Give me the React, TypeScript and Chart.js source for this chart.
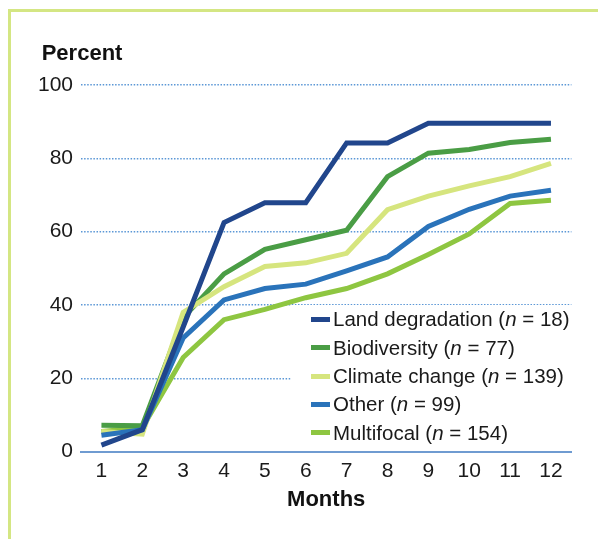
import React, { useEffect, useRef } from "react";
import { Chart, registerables } from "chart.js";

Chart.register(...registerables);

const months = ["1", "2", "3", "4", "5", "6", "7", "8", "9", "10", "11", "12"];
const yMin = 0;
const yMax = 100;
const yStep = 20;

const landDegradation = [1.8, 6, 34, 62.5, 67.9, 67.9, 84.2, 84.2, 89.6, 89.6, 89.6, 89.6];
const biodiversity = [7.2, 7.1, 36.5, 48.5, 55.2, 57.8, 60.4, 75, 81.4, 82.4, 84.3, 85.2];
const climateChange = [5.5, 4.8, 38, 45, 50.5, 51.5, 54.1, 66, 69.7, 72.5, 75, 78.6];
const other = [4.5, 6, 31, 41.4, 44.5, 45.7, 49.3, 53.1, 61.4, 66.1, 69.7, 71.3];
const multifocal = [5.5, 6.5, 25.7, 36, 38.8, 42, 44.5, 48.5, 53.8, 59.4, 67.7, 68.6];

const seriesNames = ["Land degradation", "Biodiversity", "Climate change", "Other", "Multifocal"];
const seriesN = [18, 77, 139, 99, 154];
const seriesValues = [landDegradation, biodiversity, climateChange, other, multifocal];
const seriesColors = ["#21468c", "#4a9d45", "#d6e57e", "#2a73ba", "#8ec641"];
const drawOrder = [0, 3, 2, 1, 4];

const FONT = "'Liberation Sans', Arial, sans-serif";

export default function App() {
  const canvasRef = useRef<HTMLCanvasElement | null>(null);

  useEffect(() => {
    const canvas = canvasRef.current;
    if (!canvas) return;
    const chart = new Chart(canvas, {
      type: "line",
      data: {
        labels: months,
        datasets: seriesNames.map((name, i) => ({
          label: `${name} (n = ${seriesN[i]})`,
          data: seriesValues[i],
          borderColor: seriesColors[i],
          backgroundColor: seriesColors[i],
          borderWidth: 5,
          pointRadius: 0,
          pointHoverRadius: 0,
          tension: 0,
          fill: false,
          borderJoinStyle: "miter" as const,
          borderCapStyle: "butt" as const,
          order: drawOrder[i],
        })),
      },
      options: {
        animation: false,
        responsive: false,
        maintainAspectRatio: false,
        events: [],
        layout: { padding: { top: 85, left: 0, right: 26.6, bottom: 0 } },
        plugins: {
          legend: { display: false },
          tooltip: { enabled: false },
          title: { display: false },
        },
        scales: {
          x: {
            type: "category",
            offset: true,
            grid: { display: false, drawTicks: false },
            border: { display: true, color: "#6f9bd1", width: 2 },
            ticks: {
              color: "#1a1a1a",
              font: { family: FONT, size: 21 },
              padding: 7,
              maxRotation: 0,
              autoSkip: false,
            },
            title: {
              display: true,
              text: "Months",
              color: "#111",
              font: { family: FONT, size: 22, weight: "bold" },
              padding: { top: 0, bottom: 25.8 },
            },
            afterFit: (scale: any) => {
              scale.height = 539 - 451.7;
              scale.paddingLeft = 0;
              scale.paddingRight = 0;
            },
          },
          y: {
            min: yMin,
            max: yMax,
            ticks: {
              stepSize: yStep,
              color: "#1a1a1a",
              font: { family: FONT, size: 21 },
              padding: 8,
            },
            border: { display: false, dash: [1.5, 1.6] },
            grid: {
              drawTicks: false,
              lineWidth: 1.6,
              color: (ctx: any) => (ctx.tick && ctx.tick.value === 0 ? "rgba(0,0,0,0)" : "#5b97d6"),
            },
            afterFit: (scale: any) => {
              scale.width = 81;
              scale.paddingTop = 0;
              scale.paddingBottom = 0;
            },
          },
        },
      } as any,
    });
    return () => chart.destroy();
  }, []);

  const legendTop = 305;
  const rowH = 28.4;
  const firstCenter = 319.3;

  return (
    <div style={{ position: "absolute", left: 0, top: 0, width: 598, height: 539, background: "#fff", overflow: "hidden" }}>
      <div
        style={{
          position: "absolute",
          left: 8,
          top: 9,
          width: 600,
          height: 540,
          borderLeft: "3px solid #d4e683",
          borderTop: "3px solid #d4e683",
        }}
      />
      <canvas ref={canvasRef} width={598} height={539} style={{ position: "absolute", left: 0, top: 0, width: 598, height: 539 }} />
      <div
        style={{
          position: "absolute",
          left: 41.7,
          top: 40.3,
          fontFamily: FONT,
          fontWeight: "bold",
          fontSize: 22,
          lineHeight: "26px",
          color: "#111",
          whiteSpace: "nowrap",
        }}
      >
        Percent
      </div>
      <div
        style={{
          position: "absolute",
          left: 291,
          top: legendTop,
          width: 282,
          height: 140,
          background: "#fff",
        }}
      >
        {seriesNames.map((name, i) => (
          <div
            key={name}
            style={{
              position: "absolute",
              left: 0,
              top: firstCenter - legendTop - rowH / 2 + rowH * i,
              height: rowH,
              display: "flex",
              alignItems: "center",
              fontFamily: FONT,
              fontSize: 20.5,
              lineHeight: `${rowH}px`,
              color: "#1a1a1a",
              whiteSpace: "nowrap",
            }}
          >
            <span style={{ display: "inline-block", width: 19, height: 5, marginLeft: 20, marginRight: 3, background: seriesColors[i] }} />
            <span>
              {name} (<i>n</i> = {seriesN[i]})
            </span>
          </div>
        ))}
      </div>
    </div>
  );
}
